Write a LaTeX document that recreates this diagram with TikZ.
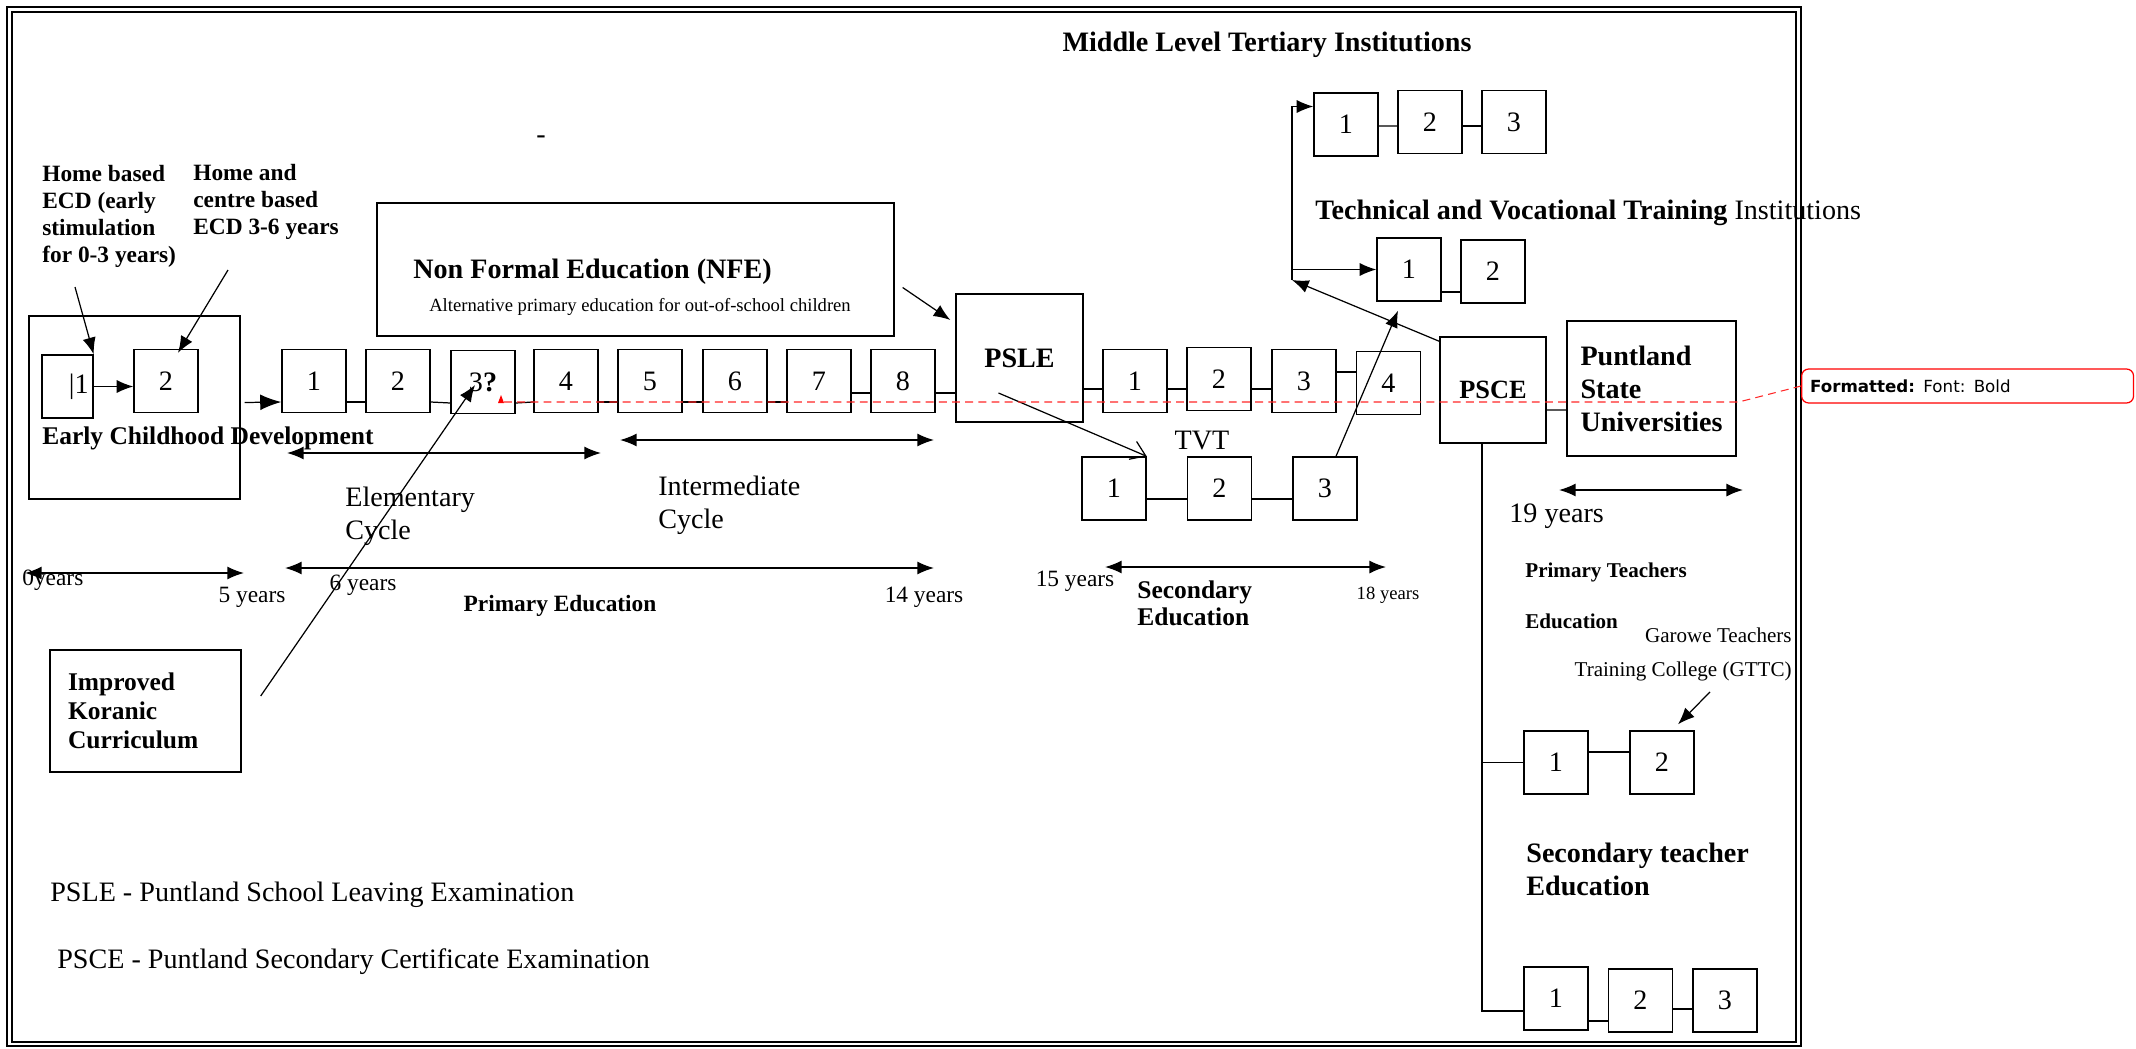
\documentclass[tikz,border=0pt]{standalone}
\usepackage{fontspec}
\setmainfont{Liberation Serif}
\newfontfamily\balloonfont{DejaVu Sans}
\usetikzlibrary{calc, arrows.meta}
\tikzset{>={Latex[length=9.5pt,width=7.5pt]}}
\tikzset{
  box/.style={draw, line width=0.8pt, minimum width=1.28cm, minimum height=1.26cm,
    inner sep=0pt, font=\fontsize{16}{18.8}\selectfont},
  joint/.style={line width=0.7pt},
  agebar/.style={line width=0.9pt, <->},
  body/.style={inner sep=0pt, font=\fontsize{16}{18.8}\selectfont},
  heading/.style={inner sep=0pt, font=\fontsize{16}{18.8}\selectfont\bfseries},
  note/.style={inner sep=0pt, font=\fontsize{13.3}{15.4}\selectfont},
  notebf/.style={inner sep=0pt, font=\fontsize{13.3}{15.4}\selectfont\bfseries},
  midbf/.style={inner sep=0pt, font=\fontsize{14.5}{15.4}\selectfont\bfseries}
}

\begin{document}
\begin{tikzpicture}[x=0.02cm, y=-0.02cm]
\useasboundingbox (0,0) rectangle (2136,1048);
% frame
\draw[line width=1.3pt] (7,7) rectangle (1801,1046);
\draw[line width=0.8pt] (12,12) rectangle (1796,1042);

% early childhood
\node[box, minimum width=4.22cm, minimum height=3.66cm] (ecd) at (134.5,407.5) {};
\node[box, minimum width=1.02cm] (e1) at (67.5,386.5) {\hspace*{0.45cm}\textbar1};
\node[box] (e2) at (166,381) {2};
\node[notebf, anchor=west, align=left] (homeecd) at (42,216) {Home based\\ECD (early\\stimulation\\for 0-3 years)};
\node[notebf, anchor=west, align=left] (centreecd) at (193,202) {Home and\\centre based\\ECD 3-6 years};
\node[midbf, anchor=west] (ecdlabel) at (42,438) {Early Childhood Development};
\coordinate (hbtail) at (75,287);
\coordinate (hctail) at (228,270);
\draw[->, joint] (hbtail) -- (e1.north east);
\draw[->, joint] (hctail) -- ($(e2.north)+(12,4)$);
\draw[->, joint] (e1.east) -- (e1.east -| e2.west);

% primary
\node[box] (p1) at (314,381) {1};
\node[box] (p2) at (398,381) {2};
\node[box] (p3) at (483,382) {3\textbf{?}};
\node[box] (p4) at (566,381) {4};
\node[box] (p5) at (650,381) {5};
\node[box] (p6) at (735,381) {6};
\node[box] (p7) at (819,381) {7};
\node[box] (p8) at (903,381) {8};
\draw[-{Latex[length=12pt,width=9pt]}, joint] ($(ecd.east)+(4,-5)$) -- ($(p1.west)+(0,21)$);
\foreach \a/\b in {p1/p2, p2/p3, p3/p4, p4/p5, p5/p6, p6/p7}
  \draw[joint] ($(\a.east)+(0,21)$) -- ($(\b.west)+(0,21)$);
\draw[joint] ($(p7.east)+(0,12)$) -- ($(p8.west)+(0,12)$);

% non formal
\node[box, minimum width=10.34cm, minimum height=2.66cm] (nfe) at (635.5,269.5) {};
\node[heading, anchor=west] (nfetitle) at (413,272) {Non Formal Education (NFE)};
\node[inner sep=0pt, font=\fontsize{10.6}{12}\selectfont] (nfesub) at (640,307) {Alternative primary education for out-of-school children};
\node[body] (stray) at (541,140) {-};

% koranic
\node[box, minimum width=3.82cm, minimum height=2.44cm, text width=3.1cm, align=left,
  font=\fontsize{14.5}{16.5}\selectfont\bfseries] (kor) at (145.5,711) {Improved\\Koranic\\Curriculum};
\draw[->, joint] ($(kor.east)+(19,-15)$) -- ($(p3.center)+(-8,3)$);

% PSLE and secondary
\node[box, minimum width=2.54cm, minimum height=2.56cm, font=\fontsize{16}{18.8}\selectfont\bfseries] (psle) at (1019.5,358) {PSLE};
\draw[joint] ($(p8.east)+(0,12)$) -- ($(psle.west)+(0,35)$);
\draw[->, joint] ($(nfe.east)+(8,18)$) -- ($(psle.west)+(-5,-38)$);
\node[box] (s1) at (1135,381) {1};
\node[box] (s2) at (1219,379) {2};
\node[box] (s3) at (1304,381) {3};
\node[box] (s4) at (1388.5,383) {4};
\draw[joint] ($(psle.east)+(0,31)$) -- ($(s1.west)+(0,8)$);
\draw[joint] ($(s1.east)+(0,8)$) -- ($(s2.west)+(0,10)$);
\draw[joint] ($(s2.east)+(0,10)$) -- ($(s3.west)+(0,8)$);
\draw[joint] ($(s3.east)+(0,-9)$) -- ($(s4.west)+(0,-11)$);

% TVT
\node[body] (tvt) at (1202,441) {TVT};
\node[box] (t1) at (1114,488.5) {1};
\node[box] (t2) at (1219.5,488.5) {2};
\node[box] (t3) at (1325,488.5) {3};
\draw[joint, -{Straight Barb[length=8pt,width=11pt]}] ($(psle.center)+(-21,35)$) -- (t1.north east);
\draw[joint] ($(t1.east)+(0,10.5)$) -- ($(t2.west)+(0,10.5)$);
\draw[joint] ($(t2.east)+(0,10.5)$) -- ($(t3.west)+(0,10.5)$);

% tertiary
\node[heading] (mlti) at (1267,45) {Middle Level Tertiary Institutions};
\node[box] (m1) at (1346,124.5) {1};
\node[box] (m2) at (1430,122) {2};
\node[box] (m3) at (1514,122) {3};
\draw[joint] ($(m1.east)+(0,1.5)$) -- ($(m2.west)+(0,4)$);
\draw[joint] ($(m2.east)+(0,4)$) -- ($(m3.west)+(0,4)$);
\node[heading, anchor=west] (tvti) at (1315,213) {Technical and Vocational Training \textmd{Institutions}};
\node[box] (v1) at (1409,269.5) {1};
\node[box] (v2) at (1493,271.5) {2};
\draw[joint] ($(v1.east)+(0,22.5)$) -- ($(v2.west)+(0,20.5)$);
\draw[->, joint] ($(t3.north)+(11,0)$) -- ($(v1.south)+(-11,9)$);

% PSCE and universities
\node[box, minimum width=2.12cm, minimum height=2.12cm, font=\fontsize{15}{18}\selectfont\bfseries] (psce) at (1493,390) {PSCE};
\node[box, minimum width=3.38cm, minimum height=2.7cm, text width=2.84cm, align=left,
  font=\fontsize{16}{18.8}\selectfont\bfseries] (psu) at (1651.5,388.5) {Puntland\\State\\Universities};
\draw[joint] ($(psce.east)+(0,20)$) -- ($(psu.west)+(0,21.5)$);
\coordinate (fork) at (1292,280);
\draw[->, joint] ($(psce.north west)+(0,5)$) -- (fork);
\draw[->, joint] (fork) |- ($(m1.west)+(0,-18)$);
\draw[->, joint] (fork |- v1.west) -- (v1.west);
\draw[agebar] (1559,490) -- (1743,490);
\node[body, anchor=west] (age19) at (1509,516) {19 years};

% teacher education
\node[inner sep=0pt, font=\fontsize{12}{29}\selectfont\bfseries, anchor=west, align=left] (pte) at (1525,595.5) {Primary Teachers\\Education};
\node[inner sep=0pt, font=\fontsize{12}{19.3}\selectfont, anchor=east, align=right] (gttc) at (1792,654) {Garowe Teachers\\Training College (GTTC)};
\node[box] (pt1) at (1556,762.5) {1};
\node[box] (pt2) at (1662,762.5) {2};
\node[heading, anchor=west, align=left] (ste) at (1526,869.5) {Secondary teacher\\Education};
\node[box] (st1) at (1556,998.5) {1};
\node[box] (st2) at (1640.5,1000.5) {2};
\node[box] (st3) at (1725,1000.5) {3};
\coordinate (trunk) at ($(psce.south)+(-11,0)$);
\coordinate (gtail) at (1710,692);
\draw[joint] (trunk) |- ($(st1.west)+(0,12.5)$);
\draw[joint] (trunk |- pt1.west) -- (pt1.west);
\draw[joint] ($(pt1.east)+(0,-10.5)$) -- ($(pt2.west)+(0,-10.5)$);
\draw[joint] ($(st1.east)+(0,22.5)$) -- ($(st2.west)+(0,20.5)$);
\draw[joint] ($(st2.east)+(0,8.5)$) -- ($(st3.west)+(0,8.5)$);
\draw[->, joint] (gtail) -- ($(pt2.north)+(16,-6)$);

% cycles and ages
\draw[agebar] (287,453) -- (601,453);
\draw[agebar] (620,440) -- (934,440);
\node[body, anchor=west, align=left] (elem) at (345,516) {Elementary\\Cycle};
\node[body, anchor=west, align=left] (inter) at (658,505.5) {Intermediate\\Cycle};
\draw[agebar] (25,573) -- (244,573);
\draw[agebar] (285,568) -- (934,568);
\draw[agebar] (1105,567) -- (1386,567);
\node[note, anchor=west] (age0) at (22,580) {0years};
\node[note] (age5) at (252,597) {5 years};
\node[note] (age6) at (363,585) {6 years};
\node[notebf] (primed) at (560,606) {Primary Education};
\node[note] (age14) at (924,597) {14 years};
\node[note] (age15) at (1075,581) {15 years};
\node[midbf, anchor=west, align=left] (seced) at (1137,603.5) {Secondary\\Education};
\node[inner sep=0pt, font=\fontsize{10.6}{12}\selectfont] (age18) at (1388,595) {18 years};

% key
\node[body, anchor=west] (keypsle) at (50,895) {PSLE - Puntland School Leaving Examination};
\node[body, anchor=west] (keypsce) at (57,962) {PSCE - Puntland Secondary Certificate Examination};

% tracked change mark
\coordinate (caret) at (501,400);
\fill[red] ($(caret)+(-3,3)$) -- ($(caret)+(3,3)$) -- ($(caret)+(0,-5)$) -- cycle;
\node[draw=red, rounded corners=4pt, line width=0.7pt, fill=white, anchor=west,
  minimum width=6.64cm, minimum height=0.68cm, text width=6.3cm, inner xsep=0.17cm, align=left,
  font=\balloonfont\fontsize{9.5}{11}\selectfont] (fmt) at (1801,386) {\textbf{Formatted:} Font: Bold};
\draw[red!85, line width=0.6pt, dash pattern=on 4.5pt off 3pt] ($(caret)+(3,2)$) -- ($(psu.east)+(2,13.5)$) -- (fmt.west);
\end{tikzpicture}
\end{document}
